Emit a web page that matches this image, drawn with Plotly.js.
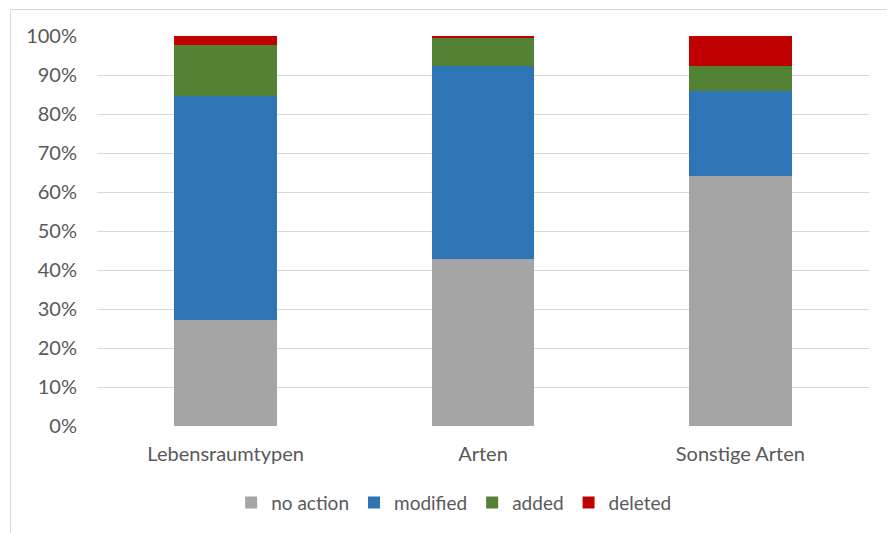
<!DOCTYPE html>
<html><head><meta charset="utf-8">
<script src="https://cdn.plot.ly/plotly-3.0.1.min.js"></script>
<style>
body{margin:0;padding:0;background:#fff;}
#frame{position:absolute;left:10px;top:9px;width:900px;height:600px;border-left:1px solid #d9d9d9;border-top:1px solid #d9d9d9;}
#chart{position:absolute;left:0;top:0;width:887px;height:533px;}
</style></head>
<body>
<div id="frame"></div>
<div id="chart"></div>
<script>
const categories = ["Lebensraumtypen", "Arten", "Sonstige Arten"];
const noAction = [27.3, 42.8, 64.1];
const modified = [57.2, 49.4, 21.9];
const added = [13.3, 7.2, 6.4];
const deleted = [2.2, 0.6, 7.6];
const seriesNames = ["no action", "modified", "added", "deleted"];
const seriesColors = ["#A5A5A5", "#2E75B6", "#548235", "#C00000"];
const yTickVals = [0,10,20,30,40,50,60,70,80,90,100];
const yTickText = yTickVals.map(v => v + "%");

const vals = [noAction, modified, added, deleted];
const data = vals.map((v, i) => ({
  type: "bar", x: categories, y: v, name: seriesNames[i],
  marker: {color: seriesColors[i], line: {width: 0}},
  hoverinfo: "skip"
}));

const font = {family: "Lato, 'Open Sans', sans-serif", size: 20, color: "#595959"};
const legendFont = {family: "Lato, 'Open Sans', sans-serif", size: 19, color: "#595959"};
const layout = {
  width: 887, height: 533,
  paper_bgcolor: "rgba(0,0,0,0)", plot_bgcolor: "rgba(0,0,0,0)",
  barmode: "stack", bargap: 0.6,
  margin: {l: 97, r: 18, t: 36, b: 106},
  font: font,
  showlegend: true,
  legend: {orientation: "h", x: 0.462, xanchor: "center", y: -0.145, yanchor: "top",
    font: legendFont, traceorder: "normal", itemwidth: 30},
  xaxis: {showgrid: false, showline: false, zeroline: false, ticks: "", tickfont: font,
    ticklabelstandoff: 14, automargin: false, fixedrange: true},
  yaxis: {range: [0, 100], tickvals: yTickVals, ticktext: yTickText, showgrid: true,
    gridcolor: "#d9d9d9", gridwidth: 1, zeroline: false, showline: false, ticks: "",
    ticklabelstandoff: 19, tickfont: font, automargin: false, fixedrange: true}
};
Plotly.newPlot("chart", data, layout, {displayModeBar: false, staticPlot: true});
</script>
</body></html>
